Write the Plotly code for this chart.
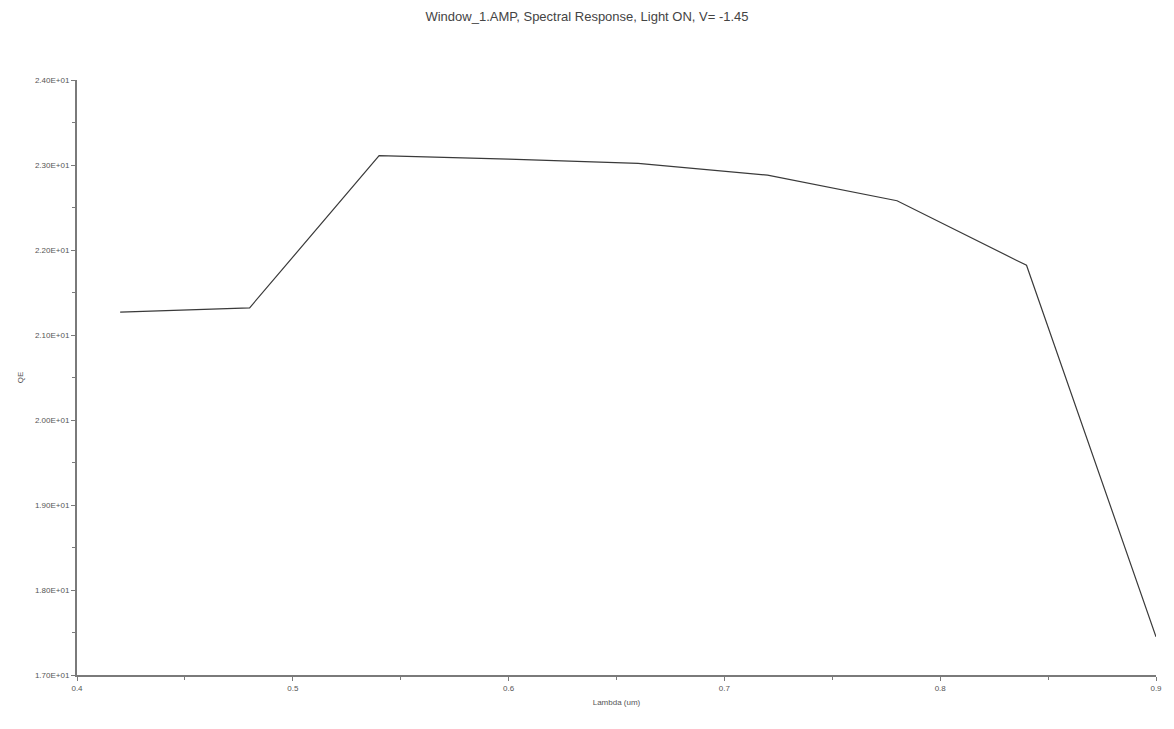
import plotly.graph_objects as go

# Data
wavelength_um = [0.42, 0.48, 0.54, 0.60, 0.66, 0.72, 0.78, 0.84, 0.90]
qe_values = [21.27, 21.32, 23.11, 23.07, 23.02, 22.88, 22.58, 21.82, 17.45]

y_tick_vals = [17, 18, 19, 20, 21, 22, 23, 24]
y_tick_text = ["1.70E+01", "1.80E+01", "1.90E+01", "2.00E+01",
               "2.10E+01", "2.20E+01", "2.30E+01", "2.40E+01"]
x_tick_vals = [0.4, 0.5, 0.6, 0.7, 0.8, 0.9]
x_tick_text = ["0.4", "0.5", "0.6", "0.7", "0.8", "0.9"]

FONT = "Liberation Sans Narrow, Arial Narrow, Liberation Sans, sans-serif"

fig = go.Figure()
fig.add_trace(go.Scatter(
    x=wavelength_um, y=qe_values, mode="lines",
    line=dict(color="#3a3a3a", width=1.2),
    showlegend=False,
))

fig.update_layout(
    width=1174, height=729,
    margin=dict(l=77, r=16, t=80, b=54),
    paper_bgcolor="white", plot_bgcolor="white",
    title=dict(text="Window_1.AMP, Spectral Response, Light ON, V= -1.45",
               x=0.5, xanchor="center", y=0.977, yanchor="middle",
               font=dict(family=FONT, size=13, color="#444")),
    font=dict(family=FONT, size=8, color="#555"),
)

fig.update_xaxes(
    range=[0.4, 0.9], tickvals=x_tick_vals, ticktext=x_tick_text,
    showgrid=False, zeroline=False,
    showline=True, linecolor="#7a7a7a", linewidth=2,
    ticks="outside", ticklen=4, tickcolor="#7a7a7a", tickwidth=1,
    minor=dict(dtick=0.05, ticks="outside", ticklen=3, tickcolor="#7a7a7a", showgrid=False),
    tickfont=dict(family=FONT, size=8, color="#555"),
    title=dict(text="Lambda (um)", font=dict(family=FONT, size=8, color="#555"), standoff=8),
)
fig.update_yaxes(
    range=[17, 24], tickvals=y_tick_vals, ticktext=y_tick_text,
    showgrid=False, zeroline=False,
    showline=True, linecolor="#7a7a7a", linewidth=2,
    ticks="outside", ticklen=4, tickcolor="#7a7a7a", tickwidth=1,
    minor=dict(dtick=0.5, ticks="outside", ticklen=3, tickcolor="#7a7a7a", showgrid=False),
    tickfont=dict(family=FONT, size=8, color="#555"),
    title=dict(text="QE", font=dict(family=FONT, size=8, color="#555"), standoff=10),
)

fig.write_html("out.html")
